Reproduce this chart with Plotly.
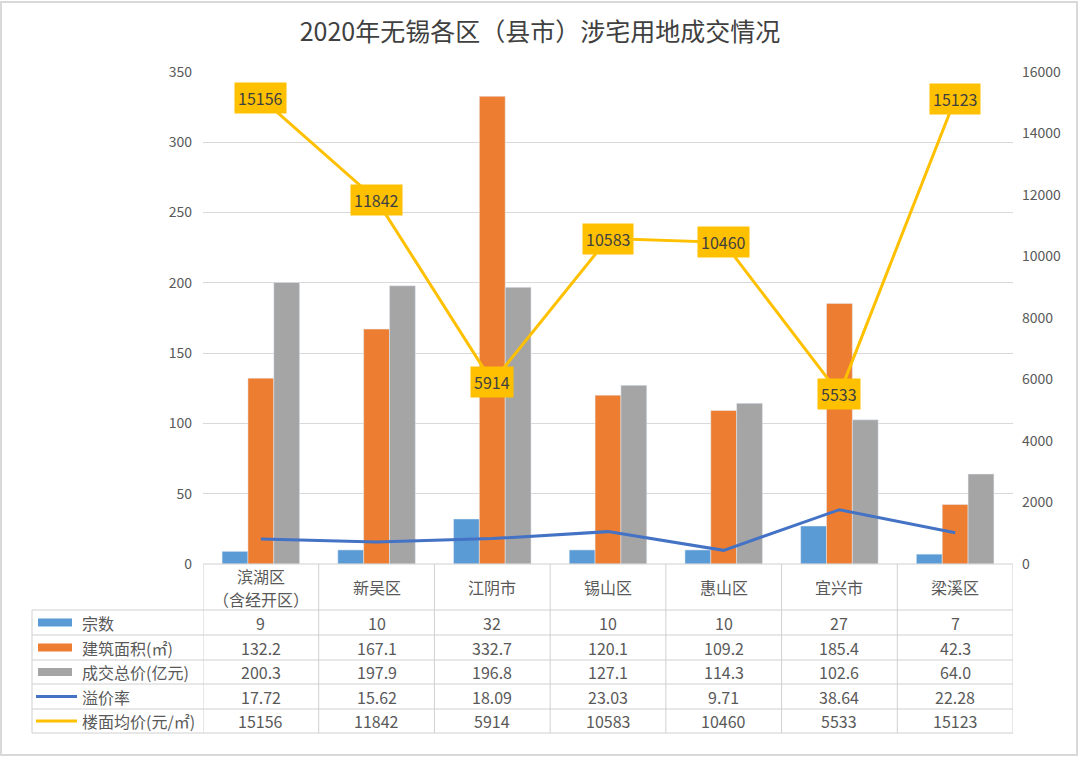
import plotly.graph_objects as go

categories = ["滨湖区<br>（含经开区）", "新吴区", "江阴市", "锡山区", "惠山区", "宜兴市", "梁溪区"]
count = [9, 10, 32, 10, 10, 27, 7]
area = [132.2, 167.1, 332.7, 120.1, 109.2, 185.4, 42.3]
total = [200.3, 197.9, 196.8, 127.1, 114.3, 102.6, 64.0]
premium = [17.72, 15.62, 18.09, 23.03, 9.71, 38.64, 22.28]
price = [15156, 11842, 5914, 10583, 10460, 5533, 15123]

series_names = ["宗数", "建筑面积(㎡)", "成交总价(亿元)", "溢价率", "楼面均价(元/㎡)"]
table_fmt = [
    [str(v) for v in count],
    [f"{v:.1f}" for v in area],
    [f"{v:.1f}" for v in total],
    [f"{v:.2f}" for v in premium],
    [str(v) for v in price],
]

C_BLUE = "#5B9BD5"
C_ORANGE = "#ED7D31"
C_GRAY = "#A5A5A5"
C_LINE_BLUE = "#4472C4"
C_GOLD = "#FFC000"
TXT = "#595959"
FONT = "Noto Sans CJK SC"

W, H = 1080, 757
L, R, T, B = 203, 1013, 72, 564

def px(x):
    return (x - L) / (R - L)

def py(y):
    return (B - y) / (B - T)

x_idx = list(range(len(categories)))

fig = go.Figure()
fig.add_trace(go.Bar(x=x_idx, y=count, name=series_names[0], marker_color=C_BLUE))
fig.add_trace(go.Bar(x=x_idx, y=area, name=series_names[1], marker_color=C_ORANGE))
fig.add_trace(go.Bar(x=x_idx, y=total, name=series_names[2], marker_color=C_GRAY))
fig.add_trace(go.Scatter(x=x_idx, y=premium, name=series_names[3], mode="lines",
                         line=dict(color=C_LINE_BLUE, width=3)))
fig.add_trace(go.Scatter(x=x_idx, y=price, name=series_names[4], mode="lines", yaxis="y2",
                         line=dict(color=C_GOLD, width=3)))

annotations = []
# data labels for price
for i, v in enumerate(price):
    annotations.append(dict(x=i, y=v, xref="x", yref="y2", text=str(v), showarrow=False,
                            xanchor="center", yanchor="middle",
                            bgcolor=C_GOLD, borderpad=3,
                            font=dict(family=FONT, size=16, color="#404040")))

# table rows
row_lines = [564, 610, 635, 660, 684, 709, 733]
row_centers = [(row_lines[k] + row_lines[k + 1]) / 2 for k in range(len(row_lines) - 1)]
# header (categories), multi-line names split into separate lines
for i, c in enumerate(categories):
    parts = c.split("<br>")
    n = len(parts)
    for j, part in enumerate(parts):
        yline = row_centers[0] + (j - (n - 1) / 2) * 23
        annotations.append(dict(x=i, y=py(yline), xref="x", yref="paper", text=part,
                                xanchor="center", yanchor="middle",
                                showarrow=False, font=dict(family=FONT, size=16, color=TXT)))
for r, vals in enumerate(table_fmt):
    yc = py(row_centers[r + 1])
    for i, v in enumerate(vals):
        annotations.append(dict(x=i, y=yc, xref="x", yref="paper", text=v, showarrow=False,
                                xanchor="center", yanchor="middle",
                                font=dict(family=FONT, size=16, color=TXT)))
    annotations.append(dict(x=px(80), y=yc, xref="paper", yref="paper", text=series_names[r],
                            xanchor="left", yanchor="middle", showarrow=False,
                            font=dict(family=FONT, size=16, color=TXT)))

shapes = []
grid_c = "#D0D0D0"
# horizontal table lines
for k, yl in enumerate(row_lines):
    x0 = px(32) if k >= 1 else 0
    shapes.append(dict(type="line", xref="paper", yref="paper", x0=x0, x1=1,
                       y0=py(yl), y1=py(yl), line=dict(color=grid_c, width=1)))
# vertical table lines
for i in range(len(categories) + 1):
    shapes.append(dict(type="line", xref="x", yref="paper", x0=i - 0.5, x1=i - 0.5,
                       y0=py(564), y1=py(733), line=dict(color=grid_c, width=1)))
shapes.append(dict(type="line", xref="paper", yref="paper", x0=px(32), x1=px(32),
                   y0=py(610), y1=py(733), line=dict(color=grid_c, width=1)))
# legend keys
key_colors = [C_BLUE, C_ORANGE, C_GRAY]
for r in range(3):
    yc = row_centers[r + 1]
    shapes.append(dict(type="rect", xref="paper", yref="paper", x0=px(38), x1=px(72),
                       y0=py(yc + 4), y1=py(yc - 4), fillcolor=key_colors[r], line=dict(width=0)))
for r, col in [(3, C_LINE_BLUE), (4, C_GOLD)]:
    yc = row_centers[r + 1]
    shapes.append(dict(type="line", xref="paper", yref="paper", x0=px(36), x1=px(77),
                       y0=py(yc), y1=py(yc), line=dict(color=col, width=3)))
# outer border
shapes.append(dict(type="rect", xref="paper", yref="paper", x0=px(1), x1=px(1077),
                   y0=py(755), y1=py(2), line=dict(color="#D9D9D9", width=2)))

fig.update_layout(
    width=W, height=H,
    margin=dict(l=L, r=W - R, t=T, b=H - B),
    paper_bgcolor="white", plot_bgcolor="white",
    title=dict(text="2020年无锡各区（县市）涉宅用地成交情况", x=0.5, xref="container",
               xanchor="center", y=1 - 32 / H, yref="container", yanchor="middle",
               font=dict(family=FONT, size=25, color="#404040")),
    font=dict(family=FONT, size=14, color=TXT),
    showlegend=False,
    barmode="group", bargap=0.33, bargroupgap=0,
    xaxis=dict(range=[-0.5, 6.5], showticklabels=False, showgrid=False, zeroline=False,
               showline=False, ticks="", tickvals=x_idx),
    yaxis=dict(range=[0, 350], dtick=50, showgrid=True, gridcolor="#D9D9D9", gridwidth=1,
               zeroline=False, showline=False, ticks="", ticklabelstandoff=10,
               tickfont=dict(family=FONT, size=14, color=TXT)),
    yaxis2=dict(range=[0, 16000], dtick=2000, overlaying="y", side="right", showgrid=False,
                zeroline=False, showline=False, ticks="", ticklabelstandoff=8,
                tickformat="d",
                tickfont=dict(family=FONT, size=14, color=TXT)),
    annotations=annotations,
    shapes=shapes,
)

fig.write_html("out.html")
